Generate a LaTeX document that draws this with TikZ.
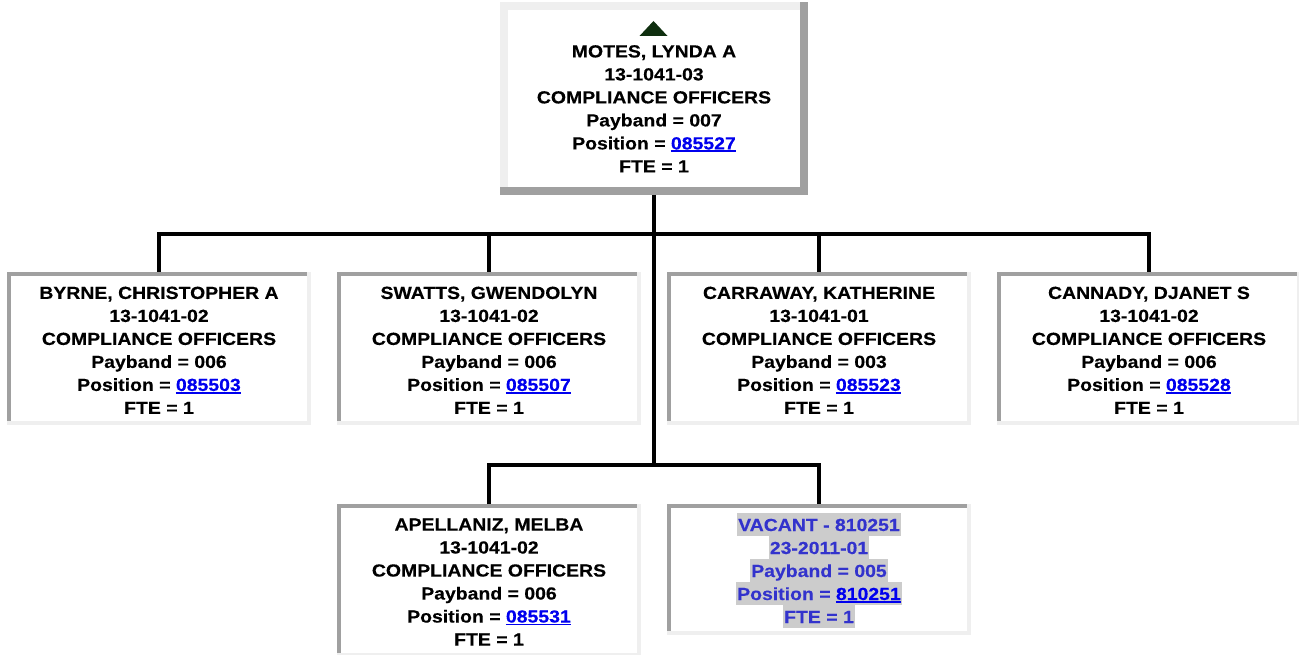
\documentclass[tikz,border=0pt]{standalone}
\usepackage{fontspec}
\setmainfont{Liberation Sans}
\newfontfamily\orgfont{Liberation Sans Bold}[FakeStretch=1.11, FakeBold=0.35]
\usepackage{xcolor}
\definecolor{darkb}{HTML}{A0A0A0}
\definecolor{lightb}{HTML}{EFEFEF}
\definecolor{linkc}{HTML}{0000EE}
\definecolor{vacc}{HTML}{3333CC}
\definecolor{hlc}{HTML}{CCCCCC}
\definecolor{trig}{HTML}{0F2F0F}
\newcommand\lnk[1]{{\color{linkc}\setbox0\hbox{#1}\rlap{\rule[-2.8pt]{\wd0}{1.8pt}}\box0}}
\newcommand\hlline[1]{{\setlength{\fboxsep}{0pt}\colorbox{hlc}{\rule[-4.5pt]{0pt}{23pt}\hspace{1pt}#1\hspace{1pt}}}}
\tikzset{
  bevel/.style n args={3}{path picture={
    \fill[#2] (path picture bounding box.south west) rectangle (path picture bounding box.north east);
    \fill[#1] ([yshift=#3]path picture bounding box.south west) rectangle ([xshift=-#3]path picture bounding box.north east);
    \fill[white] ([xshift=#3,yshift=#3]path picture bounding box.south west) rectangle ([xshift=-#3,yshift=-#3]path picture bounding box.north east);
  }},
  boxbase/.style={rectangle, inner sep=0pt, outer sep=0pt, fill=white},
  topbox/.style={boxbase, minimum width=308pt, minimum height=193pt, bevel={lightb}{darkb}{8pt}},
  childbox/.style={boxbase, minimum width=304pt, minimum height=#1, bevel={darkb}{lightb}{4pt}},
  childbox/.default=153pt,
  txt/.style={anchor=north, inner sep=0pt, align=center, font=\fontsize{17.5}{23}\selectfont\orgfont},
  conn/.style={line width=4pt, draw=black},
}
\begin{document}
\begin{tikzpicture}[x=1pt, y=-1pt]
\useasboundingbox (0,0) rectangle (1299,655);
% boxes
\node[topbox] (top) at (654,98.5) {};
\node[childbox] (b1) at (159,348.5) {};
\node[childbox] (b2) at (489,348.5) {};
\node[childbox] (b3) at (819,348.5) {};
\node[childbox] (b4) at (1149,348.5) {};
\node[childbox] (b5) at (489,580.5) {};
\node[childbox=131pt] (b6) at (819,569.5) {};
% connectors
\coordinate (j1) at (654,234);
\coordinate (j2) at (654,465);
\draw[conn] (top.south) -- (j2);
\draw[conn] (b1.north) |- (j1) -| (b4.north);
\draw[conn] (b2.north) -- (b2.north |- j1);
\draw[conn] (b3.north) -- (b3.north |- j1);
\draw[conn] (b5.north) |- (j2) -| (b6.north);
% triangle
\fill[trig] (639.5,36) -- (667.5,36) -- (653.5,21) -- cycle;
% texts
\node[txt] (t0) at (654,45) {MOTES, LYNDA A\\13-1041-03\\COMPLIANCE OFFICERS\\Payband = 007\\Position = \lnk{085527}\\FTE = 1};
\node[txt] (t1) at (159,286.5) {BYRNE, CHRISTOPHER A\\13-1041-02\\COMPLIANCE OFFICERS\\Payband = 006\\Position = \lnk{085503}\\FTE = 1};
\node[txt] (t2) at (489,286.5) {SWATTS, GWENDOLYN\\13-1041-02\\COMPLIANCE OFFICERS\\Payband = 006\\Position = \lnk{085507}\\FTE = 1};
\node[txt] (t3) at (819,286.5) {CARRAWAY, KATHERINE\\13-1041-01\\COMPLIANCE OFFICERS\\Payband = 003\\Position = \lnk{085523}\\FTE = 1};
\node[txt] (t4) at (1149,286.5) {CANNADY, DJANET S\\13-1041-02\\COMPLIANCE OFFICERS\\Payband = 006\\Position = \lnk{085528}\\FTE = 1};
\node[txt] (t5) at (489,518.3) {APELLANIZ, MELBA\\13-1041-02\\COMPLIANCE OFFICERS\\Payband = 006\\Position = \lnk{085531}\\FTE = 1};
\node[txt, text=vacc] (t6) at (819,512.3) {\hlline{VACANT - 810251}\\\hlline{23-2011-01}\\\hlline{Payband = 005}\\\hlline{Position = \lnk{810251}}\\\hlline{FTE = 1}};
\end{tikzpicture}
\end{document}
